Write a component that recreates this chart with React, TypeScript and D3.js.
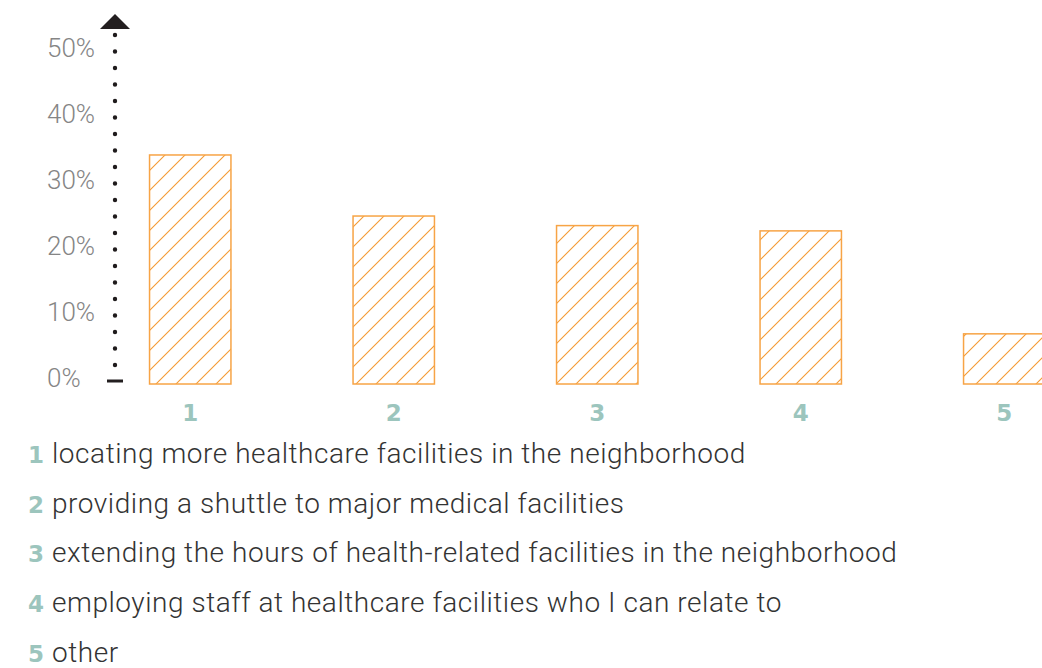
import React from "react";
import * as d3 from "d3";

const categories = ["1", "2", "3", "4", "5"];
const values = [34.7, 25.45, 24.0, 23.2, 7.6];
const yTicks = [0, 10, 20, 30, 40, 50];
const legendLabels = [
  "locating more healthcare facilities in the neighborhood",
  "providing a shuttle to major medical facilities",
  "extending the hours of health-related facilities in the neighborhood",
  "employing staff at healthcare facilities who I can relate to",
  "other",
];

const W = 1042;
const H = 668;
const TEAL = "#9cc5bd";
const ORANGE = "#f59a33";

export default function App() {
  const x = d3.scaleBand<string>().domain(categories).range([88.5, 1106]).paddingInner(0.6).paddingOuter(0.3);
  const y = d3.scaleLinear().domain([0, 50]).range([384, 54]);
  const axisX = 115;
  return (
    <svg width={W} height={H} style={{ position: "absolute", left: 0, top: 0, background: "#fff" }}>
      <defs>
        <pattern id="hatch" patternUnits="userSpaceOnUse" width={20} height={20}>
          <path d="M-5,5 L5,-5 M0,20 L20,0 M15,25 L25,15" stroke={ORANGE} strokeWidth={1.1} fill="none" />
        </pattern>
      </defs>
      {yTicks.map((t) => (
        <text key={t} x={47} y={y(t) - 6.5} dominantBaseline="central" fontFamily="Roboto" fontWeight={300} fontSize={26} fill="#858585">
          {t}%
        </text>
      ))}
      <line x1={axisX} x2={axisX} y1={y(50) - 19} y2={y(0) - 18} stroke="#1f1b1c" strokeWidth={4.4} strokeLinecap="round" strokeDasharray="0 16.5" />
      <path d={`M${axisX - 15},${y(50) - 25} L${axisX},${y(50) - 40} L${axisX + 15},${y(50) - 25} Z`} fill="#231f20" />
      <line x1={axisX - 8} x2={axisX + 8} y1={y(0) - 3} y2={y(0) - 3} stroke="#231f20" strokeWidth={3} />
      {values.map((v, i) => (
        <rect key={i} x={x(categories[i])} y={y(v)} width={x.bandwidth()} height={y(0) - y(v)} fill="url(#hatch)" stroke="#f7a446" strokeWidth={1.5} />
      ))}
      {categories.map((c) => (
        <text key={c} x={(x(c) as number) + x.bandwidth() / 2} y={421} textAnchor="middle" fontFamily="DejaVu Sans" fontWeight={700} fontSize={23} fill={TEAL}>
          {c}
        </text>
      ))}
      {legendLabels.map((l, i) => (
        <g key={i} transform={`translate(0, ${463 + i * 49.7})`}>
          <text x={28} y={0} fontFamily="DejaVu Sans" fontWeight={700} fontSize={23} fill={TEAL}>
            {categories[i]}
          </text>
          <text x={52} y={0} fontFamily="Roboto" fontWeight={300} fontSize={28} letterSpacing={0.55} fill="#333">
            {l}
          </text>
        </g>
      ))}
    </svg>
  );
}
